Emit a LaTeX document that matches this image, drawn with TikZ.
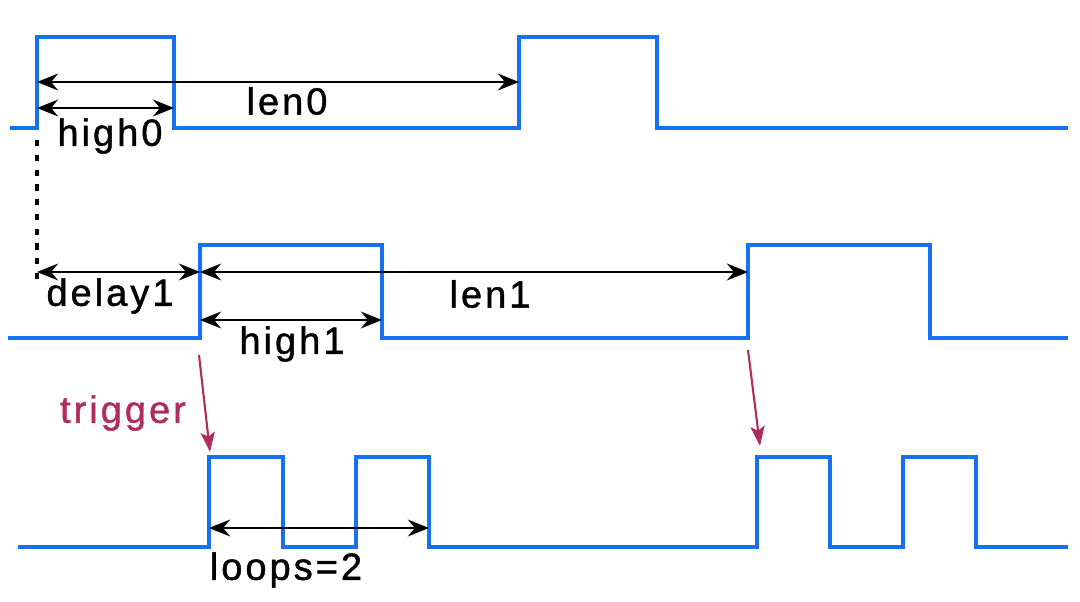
\documentclass[tikz,border=0pt]{standalone}
\usepackage{fontspec}
\setmainfont{Liberation Sans}[LetterSpace=8,FakeBold=1.2]
\usetikzlibrary{arrows.meta}
\definecolor{wave}{RGB}{22,112,242}
\definecolor{trig}{RGB}{176,44,92}
\tikzset{
  wave/.style={draw=wave, line width=2.8pt, line join=miter},
  span/.style={draw=black, line width=1.6pt, {Stealth[length=15pt,width=12pt,inset=5pt]}-{Stealth[length=15pt,width=12pt,inset=5pt]}},
  lbl/.style={font=\fontsize{27}{30}\selectfont, inner sep=0pt},
  trig/.style={draw=trig, line width=1.5pt, -{Stealth[length=14pt,width=10pt,inset=3pt]}}
}
\begin{document}
\begin{tikzpicture}[x=0.025cm, y=-0.025cm]
  \useasboundingbox (0,0) rectangle (1080,602);
  % edges of the three signals
  \coordinate (r0a) at (37,37);   \coordinate (f0a) at (174,128);
  \coordinate (r0b) at (519,37);
  \coordinate (r1a) at (200,245); \coordinate (f1a) at (382,338);
  \coordinate (r1b) at (748,245);
  \coordinate (r2a) at (209,457); \coordinate (f2b) at (429,547);
  \coordinate (r2c) at (757,457);
  % signal 0
  \draw[wave] (10,128) -| (37,37) -| (174,128) -| (519,37) -| (657,128) -- (1068,128);
  % signal 1
  \draw[wave] (8,338) -| (200,245) -| (382,338) -| (748,245) -| (930,338) -- (1068,338);
  % signal 2
  \draw[wave] (18,547) -| (209,457) -| (283,547) -| (356,457) -| (429,547)
    -| (757,457) -| (830,547) -| (903,457) -| (976,547) -- (1068,547);
  % dotted guide
  \coordinate (g0) at (37,140); \coordinate (g1) at (37,282);
  \draw[line width=2.2pt, dash pattern=on 4.5pt off 6pt] (g0) -- (g1);
  % spans
  \coordinate (l0s) at (37,82);   \coordinate (l0e) at (519,82);
  \coordinate (h0s) at (37,108);  \coordinate (h0e) at (174,108);
  \coordinate (d1s) at (37,272);  \coordinate (d1e) at (200,272);
  \coordinate (l1s) at (200,272); \coordinate (l1e) at (748,272);
  \coordinate (h1s) at (200,320); \coordinate (h1e) at (382,320);
  \coordinate (lps) at (209,528); \coordinate (lpe) at (429,528);
  \draw[span] (l0s) -- (l0e);
  \draw[span] (h0s) -- (h0e);
  \draw[span] (d1s) -- (d1e);
  \draw[span] (l1s) -- (l1e);
  \draw[span] (h1s) -- (h1e);
  \draw[span] (lps) -- (lpe);
  \node[lbl] (len0) at (287,101) {len0};
  \node[lbl] (high0) at (110,136) {high0};
  \node[lbl] (delay1) at (110,296) {delay1};
  \node[lbl] (len1) at (490,294) {len1};
  \node[lbl] (high1) at (292,344) {high1};
  \node[lbl] (loops) at (286,570) {loops=2};
  \node[lbl, text=trig] (trigger) at (123,413) {trigger};
  % trigger arrows
  \coordinate (t0s) at (199,355); \coordinate (t0e) at (210,452);
  \coordinate (t1s) at (748,350); \coordinate (t1e) at (760,446);
  \draw[trig] (t0s) -- (t0e);
  \draw[trig] (t1s) -- (t1e);
\end{tikzpicture}
\end{document}
